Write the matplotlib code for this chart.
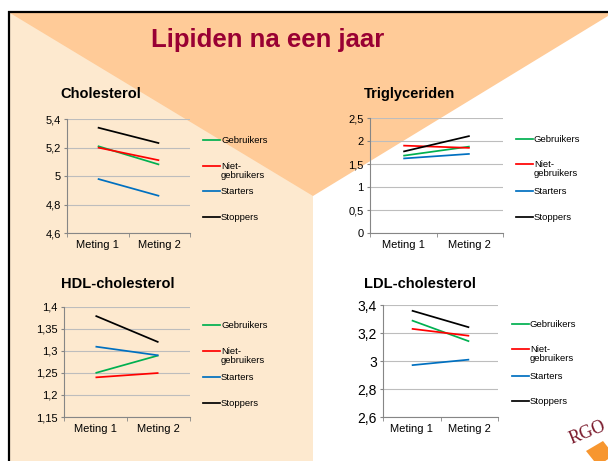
import matplotlib
matplotlib.use("Agg")
import matplotlib.pyplot as plt
from matplotlib.ticker import FuncFormatter, FixedLocator
import numpy as np

plt.rcParams['font.family'] = ['Liberation Sans', 'DejaVu Sans']

W, H = 608, 461

categories = ["Meting 1", "Meting 2"]
groups = ["Gebruikers", "Niet-\ngebruikers", "Starters", "Stoppers"]
colors = ["#00B050", "#FF0000", "#0070C0", "#000000"]

chol = [[5.21, 5.08], [5.20, 5.11], [4.98, 4.86], [5.34, 5.23]]
trig = [[1.68, 1.88], [1.90, 1.85], [1.62, 1.72], [1.77, 2.11]]
hdl = [[1.25, 1.29], [1.24, 1.25], [1.31, 1.29], [1.38, 1.32]]
ldl = [[3.29, 3.14], [3.23, 3.18], [2.97, 3.01], [3.36, 3.24]]

chol_ticks = [4.6, 4.8, 5.0, 5.2, 5.4]
trig_ticks = [0, 0.5, 1.0, 1.5, 2.0, 2.5]
hdl_ticks = [1.15, 1.2, 1.25, 1.3, 1.35, 1.4]
ldl_ticks = [2.6, 2.8, 3.0, 3.2, 3.4]


def rect(x0, y0, x1, y1):
    return [x0 / W, 1 - y1 / H, (x1 - x0) / W, (y1 - y0) / H]


fig = plt.figure(figsize=(6.08, 4.61), dpi=100)
fig.patch.set_facecolor("white")

# achtergrond van de dia
bg = fig.add_axes([0, 0, 1, 1], zorder=0)
bg.set_xlim(0, W)
bg.set_ylim(H, 0)
bg.axis("off")
bg.fill([10, 313, 313, 10], [13, 13, H, H], color="#FDE9CF", lw=0)
bg.fill([10, W, W, 313], [13, 13, 16, 196], color="#FFCB98", lw=0)
bg.plot([8, W], [12, 12], color="black", lw=1.6, solid_capstyle="butt")
bg.plot([8.8, 8.8], [11, H], color="black", lw=1.6, solid_capstyle="butt")
bg.fill([586, 603, 614, 598], [451, 441, 455, 466], color="#F7962F", lw=0)
bg.text(588, 433, "RGO", family=["Liberation Serif", "DejaVu Serif"],
        fontsize=13, color="#7B1C2E", rotation=22, ha="center", va="center")
bg.text(268, 40, "Lipiden na een jaar", fontsize=18.5, fontweight="bold",
        color="#990033", ha="center", va="center")

top = fig.add_axes([0, 0, 1, 1], zorder=5)
top.set_xlim(0, W)
top.set_ylim(H, 0)
top.axis("off")
top.patch.set_alpha(0)

fmt = FuncFormatter(lambda v, p: f"{v:g}".replace(".", ","))

charts = [
    ("Cholesterol", chol, chol_ticks, (67, 119, 190, 233), 8, (60, 94), (203, [140, 166, 191, 217])),
    ("Triglyceriden", trig, trig_ticks, (370, 118, 503, 233), 8, (364, 94), (516, [139, 164, 191, 217])),
    ("HDL-cholesterol", hdl, hdl_ticks, (64, 307, 190, 417), 8, (61, 284), (203, [325, 351, 377, 403])),
    ("LDL-cholesterol", ldl, ldl_ticks, (383, 305, 498, 417), 10, (364, 284), (512, [324, 349, 376, 401])),
]

for title, data, ticks, box, tsize, tpos, leg in charts:
    ax = fig.add_axes(rect(*box), zorder=2)
    ax.patch.set_alpha(0)
    x = np.arange(len(categories))
    for vals, c in zip(data, colors):
        ax.plot(x, vals, color=c, lw=1.25, solid_capstyle="butt")
    ax.set_xlim(-0.5, 1.5)
    ax.set_ylim(ticks[0], ticks[-1])
    ax.set_yticks(ticks)
    ax.yaxis.set_major_formatter(fmt)
    ax.set_xticks(x)
    ax.set_xticklabels(categories, fontsize=8)
    ax.xaxis.set_minor_locator(FixedLocator([-0.5, 0.5, 1.5]))
    ax.tick_params(axis="x", which="major", length=0, pad=5)
    ax.tick_params(axis="x", which="minor", length=3, color="#868686")
    ax.tick_params(axis="y", length=2.5, color="#868686", labelsize=tsize, pad=2)
    ax.grid(axis="y", color="#BDBDBD", lw=0.8)
    ax.set_axisbelow(True)
    for s in ["top", "right"]:
        ax.spines[s].set_visible(False)
    for s in ["left", "bottom"]:
        ax.spines[s].set_color("#868686")
        ax.spines[s].set_linewidth(0.8)

    top.text(tpos[0], tpos[1], title, fontsize=10.5, fontweight="bold",
             ha="left", va="center")
    lx, lys = leg
    for name, c, ly in zip(groups, colors, lys):
        top.plot([lx, lx + 17], [ly, ly], color=c, lw=1.25)
        if "\n" in name:
            top.text(lx + 18, ly - 4, name, fontsize=6.8, ha="left", va="top",
                     linespacing=1.0)
        else:
            top.text(lx + 18, ly, name, fontsize=6.8, ha="left", va="center")

fig.savefig("out.png", dpi=100, facecolor=fig.get_facecolor())
